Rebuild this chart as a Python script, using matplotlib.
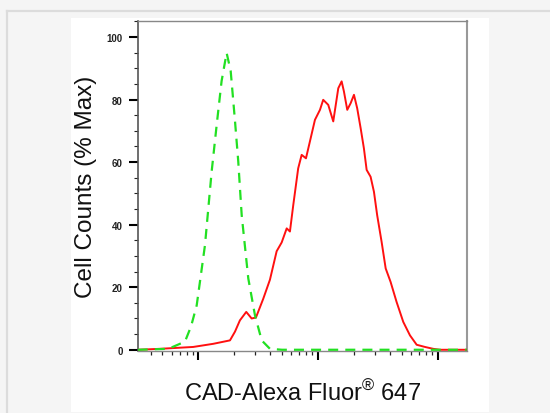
import matplotlib
matplotlib.use("Agg")
import matplotlib.pyplot as plt
import numpy as np
from matplotlib.ticker import FixedLocator, NullFormatter
from matplotlib.patches import Rectangle
from matplotlib.lines import Line2D
from matplotlib import font_manager

# ---- data (x as log10 fluorescence intensity, y as % of max) ----
red_log_x = [2.494, 2.680, 2.958, 3.125, 3.265, 3.307, 3.348, 3.401, 3.446, 3.482,
             3.543, 3.599, 3.655, 3.697, 3.739, 3.766, 3.794, 3.835, 3.864, 3.900,
             3.933, 3.975, 4.017, 4.044, 4.086, 4.128, 4.170, 4.198, 4.217, 4.245,
             4.273, 4.301, 4.328, 4.357, 4.384, 4.407, 4.440, 4.468, 4.495, 4.532,
             4.566, 4.607, 4.657, 4.713, 4.769, 4.825, 4.894, 4.963, 5.019, 5.242]
red_pct = [0.0, 0.3, 0.9, 1.9, 3.0, 5.8, 9.4, 12.1, 10.0, 10.3,
           16.3, 22.4, 31.5, 34.3, 38.8, 37.8, 46.3, 58.0, 62.3, 61.2,
           66.6, 73.5, 76.7, 79.9, 78.3, 73.0, 83.6, 85.8, 82.6, 76.7,
           78.8, 81.5, 77.2, 70.8, 64.4, 57.5, 55.3, 50.5, 43.0, 34.5,
           26.0, 21.7, 15.3, 8.9, 4.6, 1.6, 0.9, 0.3, 0.0, 0.0]

green_log_x = [2.494, 2.75, 2.889, 2.94, 2.987, 3.056, 3.112, 3.154, 3.195, 3.237,
               3.271, 3.307, 3.334, 3.363, 3.418, 3.474, 3.530, 3.599, 3.70, 5.242]
green_pct = [0.0, 0.3, 2.6, 7.5, 14.2, 33.4, 57.0, 71.9, 85.9, 94.9,
             89.1, 73.1, 60.3, 43.0, 22.8, 11.0, 3.0, 0.3, 0.0, 0.0]

y_ticks = [0, 20, 40, 60, 80, 100]
y_tick_labels = ["0", "20", "40", "60", "80", "100"]
x_label = "CAD-Alexa Fluor$^{\u00ae}$ 647"
y_label = "Cell Counts (% Max)"

# pick a narrow sans if installed
try:
    font_manager.findfont(font_manager.FontProperties(family="Liberation Sans Narrow"),
                          fallback_to_default=False)
    label_family = ["Liberation Sans Narrow", "DejaVu Sans"]
    label_size = 20.5
    ylabel_size = 20.5
except Exception:
    label_family = ["Liberation Sans", "DejaVu Sans"]
    label_size = 17.0
    ylabel_size = 17.5

plt.rcParams["mathtext.fontset"] = "custom"
plt.rcParams["mathtext.rm"] = label_family[0]
plt.rcParams["mathtext.it"] = label_family[0]
plt.rcParams["mathtext.bf"] = label_family[0]

W, H = 550, 414
fig = plt.figure(figsize=(W / 100, H / 100), dpi=100, facecolor="#f5f5f5")

# card background and borders
fig.patches.append(Rectangle((71 / W, 1 - 413 / H), (489 - 71) / W, (413 - 19) / H,
                             transform=fig.transFigure, facecolor="white",
                             edgecolor="none", zorder=-5))
fig.lines.append(Line2D([7 / W, 1], [1 - 12 / H, 1 - 12 / H], transform=fig.transFigure,
                        color="#dcdcdc", linewidth=1.6, zorder=-5))
fig.lines.append(Line2D([7 / W, 7 / W], [0, 1 - 12 / H], transform=fig.transFigure,
                        color="#dcdcdc", linewidth=1.6, zorder=-5))

ax = fig.add_axes([137.7 / W, 1 - 351.7 / H, (466.7 - 137.7) / W, (351.7 - 22.3) / H])
ax.set_facecolor("white")

ax.plot(10 ** np.array(red_log_x), red_pct, color="#ff1010", linewidth=1.4,
        solid_joinstyle="round", zorder=3)
ax.plot(10 ** np.array(green_log_x), green_pct, color="#22e022", linewidth=1.6,
        linestyle=(0, (4.5, 3.2)), zorder=4)

ax.set_xscale("log")
ax.set_xlim(10 ** 2.494, 10 ** 5.243)
ax.set_ylim(-0.3, 105)

# ticks
ax.xaxis.set_major_locator(FixedLocator([1e3, 1e4, 1e5]))
minors = [m * 10 ** d for d in (2, 3, 4) for m in range(2, 10)]
ax.xaxis.set_minor_locator(FixedLocator(minors))
ax.xaxis.set_major_formatter(NullFormatter())
ax.xaxis.set_minor_formatter(NullFormatter())

ax.set_yticks(y_ticks)
ax.set_yticklabels(y_tick_labels)
ax.yaxis.set_minor_locator(FixedLocator(np.arange(0, 106, 5)))

ax.tick_params(axis="y", which="major", direction="out", length=6.2, width=1.5,
               color="black", pad=4.5, labelsize=7)
ax.tick_params(axis="y", which="minor", direction="out", length=2.8, width=0.8,
               color="#222222")
ax.tick_params(axis="x", which="major", direction="out", length=6.5, width=1.5,
               color="black")
ax.tick_params(axis="x", which="minor", direction="out", length=3.1, width=0.9,
               color="#222222")
for lab in ax.get_yticklabels():
    lab.set_family(["Liberation Sans", "DejaVu Sans"])
    lab.set_fontweight("bold")
    lab.set_color("#222222")

ax.spines["left"].set_color("#555555")
ax.spines["left"].set_linewidth(1.2)
ax.spines["top"].set_color("#888888")
ax.spines["top"].set_linewidth(1.0)
ax.spines["right"].set_color("#999999")
ax.spines["right"].set_linewidth(1.5)
ax.spines["bottom"].set_color("#888888")
ax.spines["bottom"].set_linewidth(1.0)

ax.set_xlabel(x_label, family=label_family, fontsize=label_size,
              color="#111111", labelpad=11)
ax.set_ylabel(y_label, family=label_family, fontsize=ylabel_size,
              color="#111111", labelpad=7)

fig.savefig("out.png", dpi=100, facecolor=fig.get_facecolor())
